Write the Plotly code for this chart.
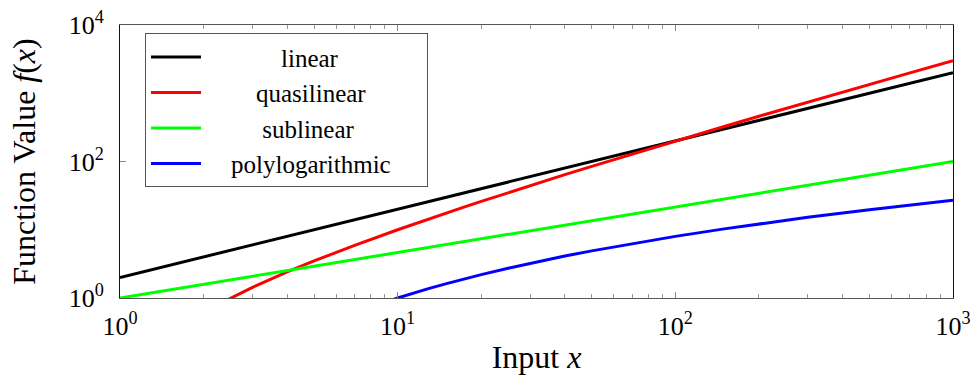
import plotly.graph_objects as go

# Data (log-log chart)
x_vals = [1, 1.5, 2, 2.5, 3, 4, 5, 7, 10, 11, 12, 13, 15, 17, 20, 25, 30, 40, 50, 70, 100, 150, 200, 300, 500, 700, 1000]
linear = [2, 3, 4, 5, 6, 8, 10, 14, 20, 22, 24, 26, 30, 34, 40, 50, 60, 80, 100, 140, 200, 300, 400, 600, 1000, 1400, 2000]
quasilinear = [0.01, 0.26, 0.60, 0.99, 1.43, 2.41, 3.49, 5.92, 10, 11.46, 12.95, 14.48, 17.6, 20.92, 26.0, 34.95, 44.3, 64.08, 84.9, 129, 200, 326, 460, 743, 1349, 1992, 3000]
sublinear = [1, 1.31, 1.59, 1.84, 2.08, 2.52, 2.92, 3.66, 4.64, 4.95, 5.24, 5.53, 6.08, 6.61, 7.37, 8.55, 9.65, 11.70, 13.57, 16.98, 21.54, 28.23, 34.2, 44.81, 63.0, 78.8, 100]
polylog = [0.0001, 0.001, 0.027, 0.08, 0.11, 0.22, 0.34, 0.60, 1, 1.129, 1.257, 1.382, 1.627, 1.863, 2.202, 2.732, 3.222, 4.112, 4.904, 6.281, 8, 10.30, 12.18, 15.20, 19.66, 23.03, 27]

series_names = ["linear", "quasilinear", "sublinear", "polylogarithmic"]
series_values = [linear, quasilinear, sublinear, polylog]
series_colors = ["#000000", "#ff0000", "#00ff00", "#0000ff"]

x_tick_vals = [1, 10, 100, 1000]
x_tick_text = ["10<sup>0</sup>", "10<sup>1</sup>", "10<sup>2</sup>", "10<sup>3</sup>"]
y_tick_vals = [1, 100, 10000]
y_tick_text = ["10<sup>0</sup>", "10<sup>2</sup>", "10<sup>4</sup>"]
x_minor = [m * 10 ** e for e in range(3) for m in range(2, 10)]

FONT = "Liberation Serif"
NB = "\u00a0"
# legend label padding (centres the labels in the legend column, as in the reference)
pad_left = [12, 8, 9, 4]
pad_right = [0, 0, 0, 5]

fig = go.Figure()
for name, vals, col, pl, pr in zip(series_names, series_values, series_colors, pad_left, pad_right):
    fig.add_trace(go.Scatter(x=x_vals, y=vals, mode="lines", name=NB * pl + name + NB * pr,
                             line=dict(color=col, width=3)))

fig.update_layout(
    width=974, height=376,
    margin=dict(l=120, r=21, t=25, b=78),
    paper_bgcolor="white", plot_bgcolor="white",
    font=dict(family=FONT, size=27, color="black"),
    showlegend=True,
    legend=dict(x=0.03, y=0.97, xanchor="left", yanchor="top",
                bgcolor="white", bordercolor="#555555", borderwidth=1,
                font=dict(size=25, family=FONT), tracegroupgap=0, itemwidth=50),
)
fig.update_xaxes(type="log", range=[0, 3], tickmode="array",
                 tickvals=x_tick_vals, ticktext=x_tick_text,
                 ticks="inside", ticklen=6, tickcolor="#888888", tickwidth=1,
                 minor=dict(tickvals=x_minor, ticks="inside", ticklen=4, tickcolor="#999999", tickwidth=1),
                 showline=True, linecolor="#555555", linewidth=1, mirror="ticks",
                 showgrid=False, zeroline=False, automargin=False,
                 ticklabelstandoff=5, ticklabeloverflow="allow",
                 title=dict(text="Input <i>x</i>", standoff=5),
                 tickfont=dict(size=26))
fig.update_yaxes(type="log", range=[0, 4], tickmode="array",
                 tickvals=y_tick_vals, ticktext=y_tick_text,
                 ticks="inside", ticklen=6, tickcolor="#888888", tickwidth=1,
                 showline=True, linecolor="#111111", linewidth=1, mirror="ticks",
                 showgrid=False, zeroline=False, automargin=False,
                 ticklabelstandoff=10, ticklabeloverflow="allow",
                 title=dict(text="Function Value <i>f</i>(<i>x</i>)", standoff=23),
                 tickfont=dict(size=26))

# remove the page's default 8px body margin so the figure fills the window exactly
fig.write_html("out.html", config={"displayModeBar": False},
               post_script="document.body.style.margin='0';")
